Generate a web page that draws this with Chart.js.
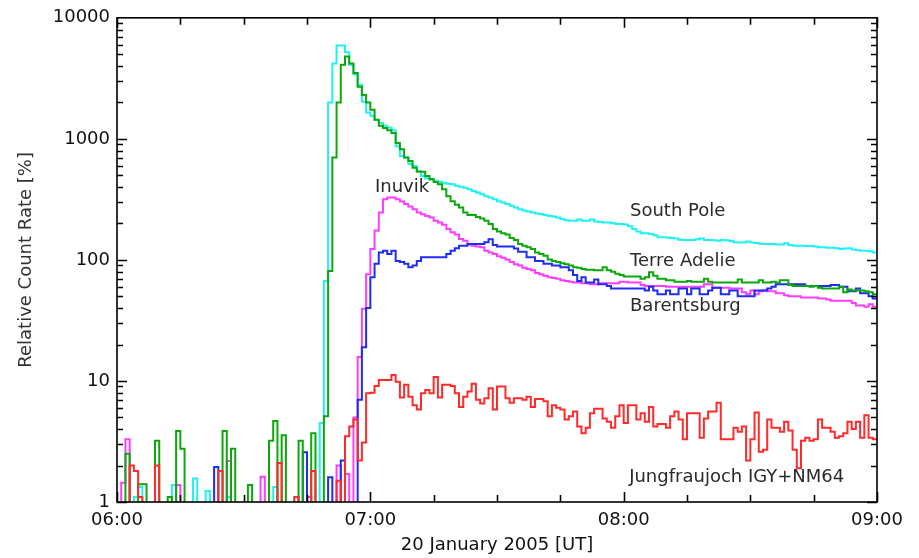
<!DOCTYPE html>
<html>
<head>
<meta charset="utf-8">
<title>Relative count rate, 20 January 2005</title>
<script src="https://cdn.jsdelivr.net/npm/chart.js@4.4.1/dist/chart.umd.min.js"></script>
<style>
   body { margin: 0; background: #fff; }
   #wrap { width: 919px; height: 558px; }
</style>
</head>
<body>
<div id="wrap"><canvas id="countChart" width="919" height="558"></canvas></div>
<script>
// one value per minute after 06:00 UT, relative count rate in %
// 0.8 means "below 1 %", it falls under the bottom of the log axis
const southPole = [
   0.8, 0.8, 0.8, 0.8, 1.1, 1.33, 0.8, 0.8, 0.8, 0.8,
   0.8, 0.8, 0.8, 1.38, 0.8, 0.8, 0.8, 0.8, 1.56, 0.8,
   0.8, 1.23, 0.8, 0.8, 0.8, 0.8, 1.1, 0.8, 0.8, 0.8,
   0.8, 0.8, 0.8, 0.8, 0.8, 0.8, 0.8, 1.33, 0.8, 0.8,
   0.8, 0.8, 1.1, 0.8, 0.8, 0.8, 0.8, 0.8, 4.5, 67,
   2000, 4200, 5900, 5900, 5200, 4100, 3400, 2800, 2030, 1650,
   1550, 1430, 1350, 1280, 1240, 1180, 870, 720, 700, 620,
   596, 542, 493, 470, 463, 450, 440, 434, 425, 421,
   410, 402, 395, 383, 370, 360, 348, 335, 327, 317,
   305, 298, 290, 280, 271, 262, 256, 251, 246, 242,
   239, 235, 231, 228, 224, 218, 213, 211, 211, 216,
   211, 211, 216, 208, 206, 204, 204, 201, 198, 198,
   196, 190, 180, 172, 166, 166, 164, 160, 154, 154,
   153, 152, 150, 147, 146, 146, 146, 148, 150, 146,
   146, 145, 144, 146, 145, 143, 140, 139, 139, 142,
   139, 138, 136, 135, 135, 135, 134, 134, 137, 133,
   131, 131, 131, 130, 130, 129, 127, 127, 126, 126,
   125, 123, 124, 125, 122, 120, 119, 119, 118, 115
];

const terreAdelie = [
   0.8, 0.8, 2.5, 0.8, 0.8, 1.4, 1.4, 0.8, 0.8, 3.2,
   0.8, 0.8, 1.1, 0.8, 3.86, 2.76, 0.8, 0.8, 0.8, 0.8,
   0.8, 0.8, 0.8, 0.8, 0.8, 3.86, 0.8, 2.76, 0.8, 0.8,
   0.8, 1.38, 0.8, 0.8, 0.8, 0.8, 3.2, 4.67, 0.8, 3.56,
   0.8, 0.8, 0.8, 3.2, 0.8, 0.8, 3.7, 0.8, 0.8, 5.1,
   81, 700, 2000, 4100, 4800, 4200, 3500, 2700, 2300, 2000,
   1740, 1440, 1280, 1230, 1180, 1120, 925, 820, 700, 656,
   578, 536, 536, 493, 463, 440, 421, 383, 335, 305,
   285, 271, 246, 235, 235, 226, 220, 211, 198, 180,
   172, 166, 162, 152, 146, 135, 131, 127, 123, 115,
   112, 108, 101, 98, 96, 94, 92, 90, 87, 86,
   84, 83, 83, 82, 82, 87, 82, 80, 77, 75,
   73, 73, 73, 73, 70, 72, 79, 74, 70, 70,
   68, 68, 66, 66, 66, 67, 66, 66, 66, 70,
   66, 65, 65, 65, 65, 65, 65, 69, 65, 65,
   65, 65, 68, 65, 65, 66, 65, 68, 68, 62,
   61, 61, 61, 61, 60, 61, 59, 58, 58, 58,
   58, 60, 54, 57, 56, 56, 56, 55, 54, 52
];

const barentsburg = [
   0.8, 0.8, 0.8, 0.8, 0.8, 0.8, 0.8, 0.8, 0.8, 0.8,
   0.8, 0.8, 0.8, 0.8, 0.8, 0.8, 0.8, 0.8, 0.8, 0.8,
   0.8, 0.8, 0.8, 1.95, 0.8, 0.8, 0.8, 0.8, 0.8, 0.8,
   0.8, 0.8, 0.8, 0.8, 0.8, 0.8, 0.8, 0.8, 0.8, 0.8,
   0.8, 0.8, 0.8, 0.8, 2.58, 0.8, 0.8, 0.8, 0.8, 0.8,
   1.6, 0.8, 0.8, 2.2, 0.8, 0.8, 0.8, 7.0, 19, 40,
   72, 93, 115, 119, 112, 119, 98, 96, 93, 87,
   90, 98, 105, 105, 105, 105, 105, 105, 112, 119,
   125, 131, 131, 135, 135, 135, 135, 140, 148, 133,
   129, 129, 129, 129, 124, 117, 117, 105, 105, 98,
   98, 93, 93, 90, 90, 87, 87, 82, 75, 67,
   72, 65, 65, 69, 63, 63, 61, 58, 58, 58,
   58, 58, 58, 58, 58, 56, 60, 56, 52, 52,
   56, 52, 52, 58, 58, 52, 58, 58, 52, 52,
   56, 59, 59, 52, 52, 56, 56, 50, 50, 50,
   50, 56, 56, 56, 58, 60, 63, 63, 63, 63,
   63, 63, 63, 61, 61, 61, 61, 61, 61, 62,
   62, 60, 60, 55, 55, 58, 53, 53, 50, 48
];

const inuvik = [
   0.8, 1.44, 3.3, 0.8, 0.8, 0.8, 0.8, 0.8, 0.8, 0.8,
   0.8, 0.8, 0.8, 0.8, 1.38, 0.8, 0.8, 0.8, 0.8, 0.8,
   0.8, 0.8, 0.8, 0.8, 0.8, 0.8, 2.18, 0.8, 0.8, 0.8,
   0.8, 0.8, 0.8, 0.8, 1.62, 0.8, 0.8, 0.8, 0.8, 0.8,
   0.8, 0.8, 0.8, 0.8, 0.8, 1.1, 0.8, 0.8, 0.8, 0.8,
   0.8, 0.8, 2.0, 0.8, 1.7, 0.8, 5.0, 15.8, 39.5, 76,
   123, 175, 246, 317, 327, 327, 317, 303, 290, 276,
   262, 246, 238, 231, 224, 211, 204, 195, 180, 169,
   162, 149, 144, 134, 131, 129, 127, 119, 115, 112,
   107, 104, 101, 96, 92, 90, 86, 84, 82, 78,
   76, 74, 72, 71, 70, 68, 67, 66, 65, 65,
   64, 64, 63, 63, 64, 64, 64, 64, 64, 66,
   66, 65, 65, 65, 62, 61, 61, 61, 61, 61,
   60, 60, 60, 60, 60, 60, 60, 60, 60, 63,
   63, 59, 59, 59, 59, 58, 58, 58, 54, 52,
   56, 52, 55, 56, 55, 55, 53, 53, 51, 50,
   50, 50, 49, 49, 49, 49, 48, 48, 47, 46,
   46, 46, 46, 46, 44, 42, 42, 41, 43, 41
];

const jungfraujoch = [
   0.8, 0.8, 0.8, 2.0, 1.8, 1.1, 0.8, 0.8, 0.8, 2.0,
   0.8, 0.8, 0.8, 0.8, 0.8, 0.8, 0.8, 0.8, 0.8, 0.8,
   0.8, 0.8, 0.8, 0.8, 1.8, 0.8, 0.8, 0.8, 0.8, 0.8,
   0.8, 0.8, 0.8, 0.8, 0.8, 0.8, 0.8, 0.8, 2.1, 0.8,
   0.8, 0.8, 1.1, 0.8, 0.8, 0.8, 1.8, 0.8, 0.8, 0.8,
   0.8, 0.8, 1.5, 0.8, 3.5, 4.2, 4.8, 2.2, 3.1, 7.9,
   8.0, 9.1, 10.2, 10.2, 10.2, 11.2, 9.85, 7.3, 9.3, 7.4,
   6.3, 5.8, 7.9, 8.4, 7.9, 10.8, 7.3, 9.3, 9.3, 9.1,
   7.9, 6.1, 7.4, 8.2, 9.5, 7.0, 6.5, 7.2, 8.7, 5.8,
   9.0, 9.0, 7.2, 6.6, 7.2, 7.2, 7.0, 7.4, 6.1, 7.1,
   7.1, 6.8, 5.1, 6.3, 6.0, 5.8, 4.8, 5.1, 5.6, 4.2,
   3.7, 4.1, 5.4, 5.9, 5.9, 4.9, 4.6, 4.1, 5.1, 6.3,
   4.5, 6.3, 6.3, 4.8, 5.4, 4.6, 6.1, 4.2, 4.4, 4.4,
   4.1, 5.1, 5.6, 4.8, 3.3, 5.4, 5.4, 5.4, 3.4, 4.9,
   5.6, 5.6, 6.6, 3.3, 3.3, 3.3, 4.1, 3.8, 4.2, 2.2,
   3.3, 5.5, 2.6, 2.7, 4.8, 4.1, 4.1, 3.8, 4.6, 3.9,
   2.7, 1.9, 3.2, 3.4, 3.2, 3.3, 4.8, 4.1, 4.1, 3.8,
   3.4, 3.5, 3.7, 4.6, 4.0, 4.6, 3.4, 5.2, 3.4, 3.3
];

const xTickMinutes = [0, 60, 120, 180];
const xTickLabels = ["06:00", "07:00", "08:00", "09:00"];
const yTickValues = [1, 10, 100, 1000, 10000];

// where the station names sit, in minutes and %
const stationLabels = [
   { text: "Inuvik", x: 61.1, y: 400 },
   { text: "South Pole", x: 121.5, y: 254 },
   { text: "Terre Adelie", x: 121.5, y: 98 },
   { text: "Barentsburg", x: 121.5, y: 41 },
   { text: "Jungfraujoch IGY+NM64", x: 121.3, y: 1.6 }
];

const FONT = "'DejaVu Sans', sans-serif";

// turn a per-minute list into step points, last bin closed at its end
function toSteps(values) {
   const pts = values.map((v, i) => ({ x: i, y: v }));
   pts.push({ x: values.length, y: values[values.length - 1] });
   return pts;
}

function stepLine(label, values, color) {
   return {
      label: label,
      data: toSteps(values),
      borderColor: color,
      borderWidth: 2,
      pointRadius: 0,
      stepped: true,
      fill: false,
      clip: 0
   };
}

// frame with inward ticks on all four sides, IDL style
const frameTicks = {
   id: "frameTicks",
   afterDatasetsDraw(chart) {
      const { ctx, chartArea: a, scales: { x, y } } = chart;
      ctx.save();
      ctx.strokeStyle = "#000";
      ctx.lineWidth = 1.6;
      ctx.beginPath();
      for (let d = 1; d < 10000; d *= 10) {
         for (let k = 1; k < 10; k++) {
            const py = Math.round(y.getPixelForValue(d * k)) + 0.5;
            const len = k === 1 ? 10 : 6;
            ctx.moveTo(a.left, py); ctx.lineTo(a.left + len, py);
            ctx.moveTo(a.right, py); ctx.lineTo(a.right - len, py);
         }
      }
      for (let m = 0; m <= 180; m += 15) {
         const px = Math.round(x.getPixelForValue(m)) + 0.5;
         const len = m % 60 === 0 ? 10 : 7;
         ctx.moveTo(px, a.bottom); ctx.lineTo(px, a.bottom - len);
         ctx.moveTo(px, a.top); ctx.lineTo(px, a.top + len);
      }
      ctx.stroke();
      ctx.strokeRect(a.left, a.top, a.right - a.left, a.bottom - a.top);
      ctx.restore();
   }
};

// station names written next to their curves
const stationNames = {
   id: "stationNames",
   afterDatasetsDraw(chart) {
      const { ctx, scales: { x, y } } = chart;
      ctx.save();
      ctx.font = "18px " + FONT;
      ctx.fillStyle = "#2a2a2a";
      ctx.textAlign = "left";
      ctx.textBaseline = "middle";
      stationLabels.forEach(l => {
         ctx.fillText(l.text, x.getPixelForValue(l.x), y.getPixelForValue(l.y));
      });
      ctx.restore();
   }
};

const ctx = document.getElementById("countChart").getContext("2d");

new Chart(ctx, {
   type: "line",
   data: {
      // first in the list is drawn on top
      datasets: [
         stepLine("Jungfraujoch IGY+NM64", jungfraujoch, "#ff2a2a"),
         stepLine("Terre Adelie", terreAdelie, "#0aa80a"),
         stepLine("Barentsburg", barentsburg, "#1f2cf2"),
         stepLine("Inuvik", inuvik, "#ff3cff"),
         stepLine("South Pole", southPole, "#1ef2f2")
      ]
   },
   options: {
      responsive: false,
      devicePixelRatio: 1,
      animation: false,
      layout: { padding: { top: 16, right: 42, left: 0, bottom: 0 } },
      plugins: {
         legend: { display: false },
         tooltip: { enabled: false }
      },
      scales: {
         x: {
            type: "linear",
            min: 0,
            max: 180,
            grid: { display: false, drawTicks: false },
            border: { display: false },
            afterBuildTicks: scale => {
               scale.ticks = xTickMinutes.map(v => ({ value: v }));
            },
            afterFit: scale => { scale.height = 56; },
            ticks: {
               autoSkip: false,
               maxRotation: 0,
               padding: 8,
               color: "#111",
               font: { family: FONT, size: 18 },
               callback: (value, index) => xTickLabels[index]
            },
            title: {
               display: true,
               text: "20 January 2005 [UT]",
               color: "#111",
               font: { family: FONT, size: 18 },
               padding: { top: 0, bottom: 2 }
            }
         },
         y: {
            type: "logarithmic",
            min: 1,
            max: 10000,
            grid: { display: false, drawTicks: false },
            border: { display: false },
            afterBuildTicks: scale => {
               scale.ticks = yTickValues.map(v => ({ value: v }));
            },
            afterFit: scale => { scale.width = 117; },
            ticks: {
               padding: 7,
               color: "#111",
               font: { family: FONT, size: 18 },
               callback: value => String(value)
            },
            title: {
               display: true,
               text: "Relative Count Rate [%]",
               color: "#333",
               font: { family: FONT, size: 18 },
               padding: { top: 16, bottom: 0 }
            }
         }
      }
   },
   plugins: [frameTicks, stationNames]
});
</script>
</body>
</html>
